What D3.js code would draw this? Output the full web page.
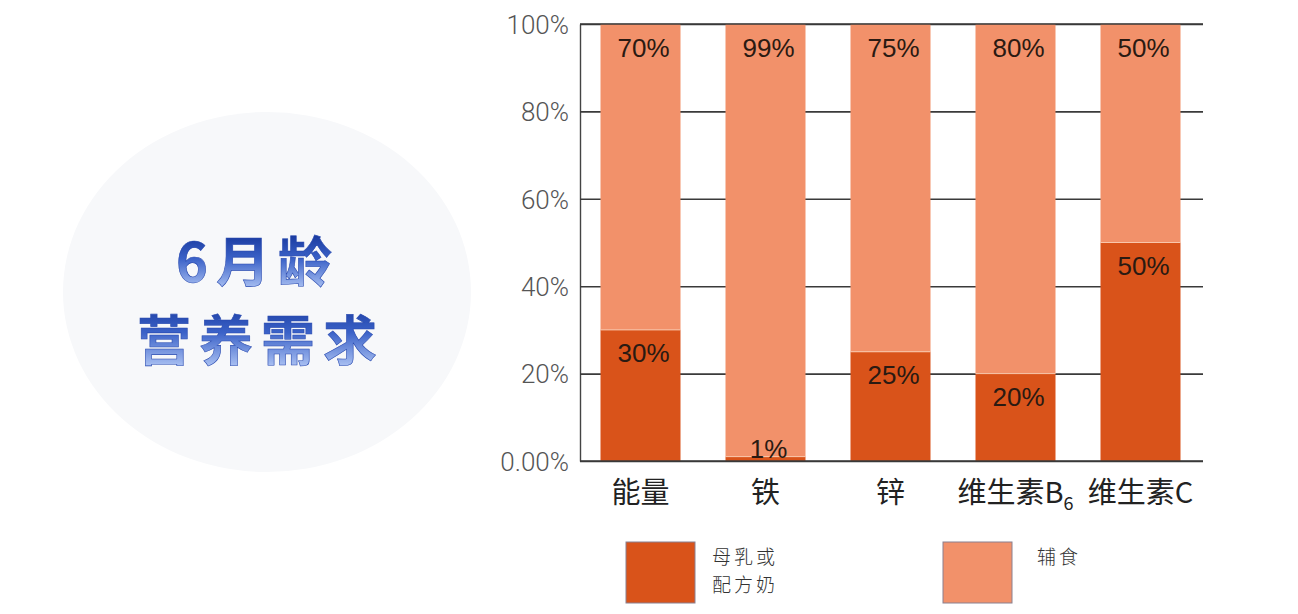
<!DOCTYPE html>
<html>
<head>
<meta charset="utf-8">
<script src="https://cdn.jsdelivr.net/npm/d3@7"></script>
<style>
  body { margin: 0; background: #fff; }
  svg { display: block; }
  .tick-label { font-family: Roboto, "Liberation Sans", sans-serif; font-weight: 300; font-size: 26px; fill: #555; }
  .cat-label { font-family: "Noto Sans CJK SC", sans-serif; font-size: 29px; fill: #222; }
  .val-label { font-family: "Liberation Sans", Arial, sans-serif; font-size: 26px; fill: #2a1a12; text-anchor: middle; }
  .legend-text { font-family: "Noto Sans CJK SC", sans-serif; font-weight: 300; font-size: 19px; letter-spacing: 3px; fill: #333; }
  .title { font-family: "Noto Sans CJK SC", sans-serif; font-weight: 700; font-size: 54px; letter-spacing: 8px; text-anchor: middle; }
</style>
</head>
<body>
<div id="chart"></div>
<script>
// chart data
const categories = ['能量', '铁', '锌', '维生素B6', '维生素C'];
const milkShare = [30, 1, 25, 20, 50];      // 母乳或配方奶
const foodShare = [70, 99, 75, 80, 50];     // 辅食
const yTicks = [0, 20, 40, 60, 80, 100];
const yTickLabels = ['0.00%', '20%', '40%', '60%', '80%', '100%'];
const seriesNames = [['母乳或', '配方奶'], ['辅食']];
const titleLines = ['6月龄', '营养需求'];

const W = 1298, H = 614;
const colorMilk = '#d9531a';
const colorFood = '#f2916a';

const svg = d3.select('#chart').append('svg')
  .attr('width', W)
  .attr('height', H);

// title bubble on the left
const defs = svg.append('defs');
const grad = defs.append('linearGradient')
  .attr('id', 'titleGrad')
  .attr('gradientUnits', 'userSpaceOnUse')
  .attr('x1', 0).attr('y1', 232).attr('x2', 0).attr('y2', 366);
// one gradient band per title line
[[0, '#15359a'], [0.2, '#3b62c8'], [0.42, '#a9c0f2'], [0.5, '#15359a'], [0.75, '#3b62c8'], [1, '#a9c0f2']]
  .forEach(s => grad.append('stop').attr('offset', s[0]).attr('stop-color', s[1]));

svg.append('ellipse')
  .attr('cx', 267).attr('cy', 292)
  .attr('rx', 204).attr('ry', 180)
  .attr('fill', '#f7f8fa');

const title = svg.append('text')
  .attr('class', 'title')
  .attr('fill', 'url(#titleGrad)')
  .attr('stroke', '#2a4bb0')
  .attr('stroke-width', 0.6);

title.selectAll('tspan')
  .data(titleLines)
  .enter()
  .append('tspan')
  .attr('x', (d, i) => i === 0 ? 258 : 261)
  .attr('y', (d, i) => i === 0 ? 282 : 361)
  .text(d => d);

// scales
const x = d3.scaleBand()
  .domain(categories)
  .range([578, 1203])
  .paddingInner(0.36)
  .paddingOuter(0.18);

const y = d3.scaleLinear()
  .domain([0, 100])
  .range([461, 24]);

const plotLeft = 580, plotRight = 1203;

// gridlines + y axis (behind the bars)
const yAxis = svg.append('g')
  .attr('transform', `translate(${plotLeft},0)`)
  .call(d3.axisLeft(y)
    .tickValues(yTicks)
    .tickSize(-(plotRight - plotLeft))
    .tickSizeOuter(0)
    .tickPadding(11)
    .tickFormat((d, i) => yTickLabels[i]));

yAxis.select('.domain').attr('stroke', '#444').attr('stroke-width', 1.4);
yAxis.selectAll('.tick line').attr('stroke', '#3a3a3a').attr('stroke-width', 1.6);
yAxis.selectAll('.tick text')
  .attr('class', 'tick-label')
  .attr('dy', '0.36em');
yAxis.attr('font-size', null).attr('font-family', null);

// stacked bars
const rows = categories.map((c, i) => ({ cat: c, milk: milkShare[i], food: foodShare[i] }));

const bars = svg.append('g');

bars.selectAll('.bar-milk')
  .data(rows)
  .enter()
  .append('rect')
  .attr('class', 'bar-milk')
  .attr('x', d => x(d.cat))
  .attr('width', x.bandwidth())
  .attr('y', d => y(d.milk))
  .attr('height', d => y(0) - y(d.milk))
  .attr('fill', colorMilk);

bars.selectAll('.bar-food')
  .data(rows)
  .enter()
  .append('rect')
  .attr('class', 'bar-food')
  .attr('x', d => x(d.cat))
  .attr('width', x.bandwidth())
  .attr('y', d => y(d.milk + d.food))
  .attr('height', d => y(d.milk) - y(d.milk + d.food))
  .attr('fill', colorFood);

// thin light seam between segments
bars.selectAll('.seam')
  .data(rows)
  .enter()
  .append('line')
  .attr('x1', d => x(d.cat))
  .attr('x2', d => x(d.cat) + x.bandwidth())
  .attr('y1', d => y(d.milk))
  .attr('y2', d => y(d.milk))
  .attr('stroke', '#f9c6ab')
  .attr('stroke-width', 1);

// redraw top and bottom lines over the bars
svg.append('line')
  .attr('x1', plotLeft).attr('x2', plotRight)
  .attr('y1', y(100)).attr('y2', y(100))
  .attr('stroke', '#3a3a3a').attr('stroke-width', 1.6);
svg.append('line')
  .attr('x1', plotLeft).attr('x2', plotRight)
  .attr('y1', y(0)).attr('y2', y(0))
  .attr('stroke', '#3a3a3a').attr('stroke-width', 1.6);

// value labels
svg.selectAll('.lbl-food')
  .data(rows)
  .enter()
  .append('text')
  .attr('class', 'val-label')
  .attr('x', d => x(d.cat) + x.bandwidth() / 2 + 3)
  .attr('y', d => y(d.milk + d.food) + 33)
  .text(d => d.food + '%');

svg.selectAll('.lbl-milk')
  .data(rows)
  .enter()
  .append('text')
  .attr('class', 'val-label')
  .attr('x', d => x(d.cat) + x.bandwidth() / 2 + 3)
  .attr('y', d => Math.min(y(d.milk) + 32, y(0) - 3))
  .text(d => d.milk + '%');

// category labels (B6 with subscript)
const catG = svg.selectAll('.cat')
  .data(categories)
  .enter()
  .append('text')
  .attr('class', 'cat-label')
  .attr('x', d => x(d) + x.bandwidth() / 2)
  .attr('y', 503)
  .attr('text-anchor', 'middle');

catG.each(function (d) {
  const t = d3.select(this);
  const m = d.match(/^(.*B)(\d)$/);
  if (m) {
    t.append('tspan').text(m[1]);
    t.append('tspan').attr('dy', 7).attr('font-size', 18).text(m[2]);
  } else {
    t.text(d);
  }
});

// legend
const legendX = [626, 943];
const legendColors = [colorMilk, colorFood];
const legend = svg.selectAll('.legend')
  .data(seriesNames)
  .enter()
  .append('g')
  .attr('transform', (d, i) => `translate(${legendX[i]},542)`);

legend.append('rect')
  .attr('width', 69)
  .attr('height', 61)
  .attr('fill', (d, i) => legendColors[i])
  .attr('stroke', '#8a8090')
  .attr('stroke-width', 1);

legend.each(function (lines) {
  const lx = lines.length > 1 ? 86 : 94;
  d3.select(this).append('text')
    .attr('class', 'legend-text')
    .selectAll('tspan')
    .data(lines)
    .enter()
    .append('tspan')
    .attr('x', lx)
    .attr('y', (d, j) => 22 + j * 28)
    .text(d => d);
});
</script>
</body>
</html>
